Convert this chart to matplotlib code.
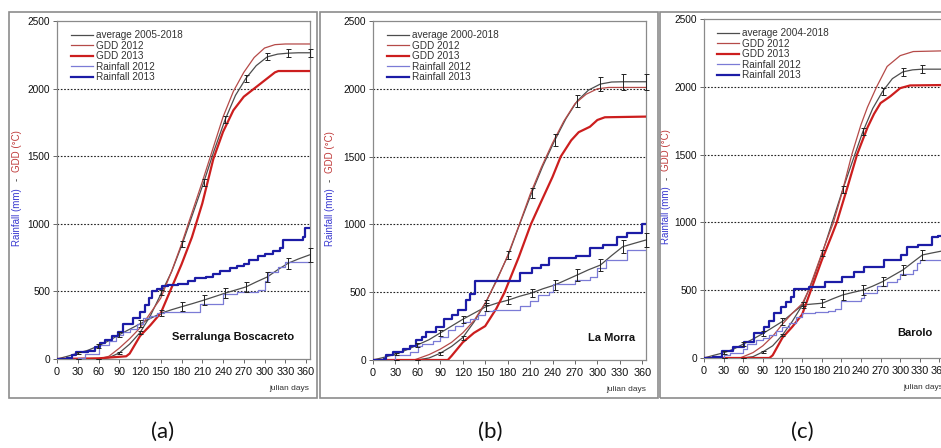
import matplotlib
matplotlib.use("Agg")
import matplotlib.pyplot as plt
from matplotlib.patches import Rectangle
from matplotlib.lines import Line2D
from matplotlib.transforms import blended_transform_factory

plt.rcParams["font.family"] = ["Liberation Sans", "DejaVu Sans"]

# julian days where the multi-year average is sampled; every second one carries an error bar
avg_days = [0, 15, 31, 45, 59, 75, 90, 105, 120, 135, 151, 166, 181, 196, 212,
            227, 243, 258, 273, 288, 304, 319, 334, 349, 365]
err_days = avg_days[2::2]
x_ticks = list(range(0, 361, 30))
y_ticks = [0, 500, 1000, 1500, 2000, 2500]
grid_levels = [500, 1000, 1500, 2000]

# --- Serralunga Boscacreto ---
a_name = "Serralunga Boscacreto"
a_avg_label = "average 2005-2018"
a_gdd_avg = [0, 0, 0, 0, 0, 10, 45, 110, 195, 320, 490, 650, 850, 1070, 1305,
             1540, 1770, 1950, 2075, 2170, 2235, 2255, 2262, 2265, 2265]
a_gdd_err = [0, 0, 8, 12, 18, 20, 25, 25, 25, 25, 28, 30]
a_rain_avg = [0, 20, 45, 65, 95, 135, 180, 220, 260, 300, 340, 365, 388, 410, 435,
              460, 487, 510, 533, 570, 607, 660, 708, 740, 770]
a_rain_err = [10, 15, 20, 25, 25, 30, 37, 35, 35, 35, 40, 50]
a_gdd12_days = [0, 60, 75, 90, 105, 120, 135, 150, 165, 180, 195, 210, 225, 240,
                255, 270, 285, 300, 315, 330, 365]
a_gdd12 = [0, 0, 20, 80, 150, 230, 340, 450, 640, 850, 1080, 1310, 1550, 1790,
           1980, 2120, 2230, 2300, 2325, 2330, 2330]
a_gdd13_days = [0, 60, 100, 105, 120, 135, 150, 165, 180, 195, 210, 226, 240, 255,
                270, 285, 300, 315, 320, 365]
a_gdd13 = [0, 5, 20, 40, 170, 250, 340, 520, 700, 900, 1150, 1480, 1680, 1840,
           1940, 2000, 2060, 2120, 2130, 2130]
a_rain12_days = [0, 30, 40, 60, 75, 85, 95, 105, 115, 125, 135, 145, 155, 200, 207,
                 240, 260, 290, 300, 305, 320, 330, 365]
a_rain12 = [0, 10, 40, 100, 130, 180, 200, 220, 260, 300, 320, 340, 345, 350, 410,
            480, 495, 510, 580, 640, 680, 720, 720]
a_rain13_days = [0, 15, 22, 28, 45, 55, 62, 70, 80, 88, 95, 110, 120, 127, 133, 137,
                 145, 152, 160, 175, 190, 200, 215, 225, 235, 250, 260, 270, 278,
                 290, 300, 312, 322, 326, 355, 358, 365]
a_rain13 = [0, 10, 30, 50, 60, 90, 120, 140, 170, 200, 260, 300, 350, 400, 450, 500,
            520, 540, 550, 555, 580, 600, 610, 630, 650, 670, 690, 700, 730, 760,
            780, 800, 820, 880, 900, 970, 970]

# --- La Morra ---
b_name = "La Morra"
b_avg_label = "average 2000-2018"
b_gdd_avg = [0, 0, 0, 0, 0, 15, 50, 100, 165, 280, 425, 600, 775, 1000, 1230,
             1430, 1620, 1780, 1910, 1990, 2035, 2050, 2052, 2052, 2052]
b_gdd_err = [0, 0, 10, 15, 20, 30, 37, 45, 45, 50, 60, 60]
b_rain_avg = [0, 20, 45, 75, 110, 150, 200, 250, 300, 345, 393, 420, 442, 470, 494,
              525, 553, 590, 627, 665, 700, 770, 836, 860, 885]
b_rain_err = [10, 15, 20, 25, 30, 30, 30, 35, 45, 45, 50, 55]
b_gdd12_days = [0, 55, 60, 75, 90, 105, 120, 135, 150, 165, 180, 195, 210, 225,
                240, 255, 270, 285, 300, 315, 365]
b_gdd12 = [0, 0, 10, 40, 80, 130, 200, 290, 420, 580, 770, 990, 1220, 1420, 1600,
           1760, 1890, 1960, 2000, 2010, 2010]
b_gdd13_days = [0, 100, 105, 120, 135, 150, 165, 176, 195, 211, 225, 240, 251, 265,
                275, 290, 300, 310, 365]
b_gdd13 = [0, 0, 30, 130, 200, 250, 380, 500, 760, 1000, 1170, 1350, 1500, 1620,
           1680, 1720, 1770, 1790, 1795]
b_rain12_days = [0, 25, 30, 50, 60, 65, 80, 90, 100, 110, 120, 130, 140, 150, 160,
                 196, 210, 220, 235, 240, 270, 290, 299, 312, 340, 365]
b_rain12 = [0, 0, 40, 60, 100, 120, 140, 170, 220, 250, 280, 300, 330, 360, 370,
            397, 434, 480, 500, 560, 590, 614, 675, 737, 811, 811]
b_rain13_days = [0, 15, 18, 27, 40, 50, 58, 65, 71, 84, 95, 105, 113, 124, 130, 136,
                 196, 213, 225, 235, 272, 290, 308, 326, 340, 359, 365]
b_rain13 = [0, 10, 40, 62, 80, 100, 147, 170, 209, 246, 300, 330, 369, 442, 490, 585,
            640, 677, 700, 752, 764, 825, 850, 909, 938, 1005, 1005]

# --- Barolo ---
c_name = "Barolo"
c_avg_label = "average 2004-2018"
c_gdd_avg = [0, 0, 0, 0, 0, 10, 45, 90, 170, 270, 395, 570, 775, 1000, 1240,
             1450, 1670, 1840, 1965, 2060, 2110, 2125, 2130, 2130, 2130]
c_gdd_err = [0, 0, 5, 10, 15, 20, 25, 25, 25, 30, 30, 30]
c_rain_avg = [0, 20, 40, 65, 100, 140, 180, 225, 270, 330, 391, 398, 404, 435, 465,
              483, 501, 530, 563, 605, 649, 705, 760, 775, 790]
c_rain_err = [10, 15, 20, 25, 25, 30, 35, 35, 35, 35, 40, 50]
c_gdd12_days = [0, 55, 60, 75, 90, 105, 120, 135, 150, 160, 180, 198, 210, 226,
                240, 250, 264, 280, 300, 320, 365]
c_gdd12 = [0, 0, 10, 40, 90, 160, 250, 330, 400, 500, 770, 1000, 1200, 1500, 1720,
           1850, 2000, 2150, 2230, 2260, 2265]
c_gdd13_days = [0, 100, 105, 120, 135, 150, 165, 180, 195, 203, 220, 234, 250, 260,
                270, 285, 300, 315, 365]
c_gdd13 = [0, 0, 20, 150, 230, 320, 520, 720, 900, 1000, 1270, 1500, 1700, 1800,
           1880, 1930, 1990, 2010, 2013]
c_rain12_days = [0, 20, 30, 40, 60, 65, 80, 90, 100, 110, 120, 130, 140, 150, 170,
                 190, 200, 210, 240, 245, 265, 280, 295, 300, 320, 325, 330, 365]
c_rain12 = [0, 0, 20, 40, 70, 100, 130, 150, 170, 200, 230, 260, 300, 330, 340, 350,
            360, 420, 440, 480, 530, 560, 580, 620, 650, 700, 720, 720]
c_rain13_days = [0, 14, 28, 45, 61, 76, 91, 100, 107, 117, 125, 133, 138, 160, 185,
                 211, 230, 245, 276, 301, 311, 327, 348, 358, 365]
c_rain13 = [0, 10, 55, 81, 120, 182, 231, 270, 329, 378, 410, 452, 510, 526, 563,
            600, 637, 673, 723, 760, 821, 833, 895, 900, 900]

col_avg = "#4d4d4d"
col_gdd12 = "#b54a48"
col_gdd13 = "#cc1e1e"
col_rain12 = "#7b7bd6"
col_rain13 = "#1c1ca6"

W, H = 941, 448
fig = plt.figure(figsize=(W / 100, H / 100), dpi=100)


def px_rect(left, top, right, bottom):
    return [left / W, 1 - bottom / H, (right - left) / W, (bottom - top) / H]


# outer frames around each chart
for l, t, r, b in [(9, 12, 317, 398), (320, 12, 658, 398), (660, 12, 945, 398)]:
    x0, y0, w, h = px_rect(l, t, r, b)
    fig.patches.append(Rectangle((x0, y0), w, h, transform=fig.transFigure,
                                 fill=False, edgecolor="#8c8c8c", lw=1.2))

panels = [
    dict(rect=(57, 21, 309.5, 359), name=a_name, avg_label=a_avg_label,
         gdd_avg=a_gdd_avg, gdd_err=a_gdd_err, rain_avg=a_rain_avg, rain_err=a_rain_err,
         gdd12=(a_gdd12_days, a_gdd12), gdd13=(a_gdd13_days, a_gdd13),
         rain12=(a_rain12_days, a_rain12), rain13=(a_rain13_days, a_rain13),
         name_pos=(343, 165), ylab_x=-0.16, tag=("(a)", 163)),
    dict(rect=(373, 21, 646, 360), name=b_name, avg_label=b_avg_label,
         gdd_avg=b_gdd_avg, gdd_err=b_gdd_err, rain_avg=b_rain_avg, rain_err=b_rain_err,
         gdd12=(b_gdd12_days, b_gdd12), gdd13=(b_gdd13_days, b_gdd13),
         rain12=(b_rain12_days, b_rain12), rain13=(b_rain13_days, b_rain13),
         name_pos=(351, 165), ylab_x=-0.158, tag=("(b)", 490)),
    dict(rect=(704, 19, 942.7, 358), name=c_name, avg_label=c_avg_label,
         gdd_avg=c_gdd_avg, gdd_err=c_gdd_err, rain_avg=c_rain_avg, rain_err=c_rain_err,
         gdd12=(c_gdd12_days, c_gdd12), gdd13=(c_gdd13_days, c_gdd13),
         rain12=(c_rain12_days, c_rain12), rain13=(c_rain13_days, c_rain13),
         name_pos=(350, 185), ylab_x=-0.158, tag=("(c)", 802)),
]

for p in panels:
    ax = fig.add_axes(px_rect(*p["rect"]))
    ax.set_xlim(0, 365)
    ax.set_ylim(0, 2500)
    ax.set_xticks(x_ticks)
    ax.set_yticks(y_ticks)
    for s in ax.spines.values():
        s.set_color("#8a8a8a")
        s.set_linewidth(0.9)
    ax.tick_params(axis="both", direction="out", length=3, width=0.7,
                   colors="#666666", labelcolor="#111111")
    ax.tick_params(axis="x", labelsize=7.8, pad=3)
    ax.tick_params(axis="y", labelsize=7.3, pad=2)
    for lev in grid_levels:
        ax.axhline(lev, color="#222222", lw=0.8, ls=(0, (1.5, 1.5)), zorder=1)

    ax.plot(avg_days, p["gdd_avg"], color=col_avg, lw=0.9, zorder=3)
    ax.plot(avg_days, p["rain_avg"], color=col_avg, lw=0.9, zorder=3)
    ax.errorbar(err_days, p["gdd_avg"][2::2], yerr=p["gdd_err"], fmt="none",
                ecolor="#222222", elinewidth=0.7, capsize=1.8, capthick=0.7,
                zorder=4, clip_on=False)
    ax.errorbar(err_days, p["rain_avg"][2::2], yerr=p["rain_err"], fmt="none",
                ecolor="#222222", elinewidth=0.7, capsize=1.8, capthick=0.7,
                zorder=4, clip_on=False)
    ax.plot(*p["gdd12"], color=col_gdd12, lw=0.9, zorder=3)
    ax.plot(*p["gdd13"], color=col_gdd13, lw=1.6, zorder=3)
    ax.plot(*p["rain12"], color=col_rain12, lw=0.9, drawstyle="steps-post", zorder=3)
    ax.plot(*p["rain13"], color=col_rain13, lw=1.6, drawstyle="steps-post", zorder=3)

    handles = [Line2D([], [], color=col_avg, lw=0.9),
               Line2D([], [], color=col_gdd12, lw=0.9),
               Line2D([], [], color=col_gdd13, lw=1.6),
               Line2D([], [], color=col_rain12, lw=0.9),
               Line2D([], [], color=col_rain13, lw=1.6)]
    labels = [p["avg_label"], "GDD 2012", "GDD 2013", "Rainfall 2012", "Rainfall 2013"]
    leg = ax.legend(handles, labels, loc="upper left", bbox_to_anchor=(0.03, 0.99),
                    frameon=False, fontsize=7.2, handlelength=2.2, handletextpad=0.3,
                    labelspacing=0.05, borderaxespad=0.2)
    for t in leg.get_texts():
        t.set_color("#333333")

    nx, ny = p["name_pos"]
    ax.text(nx, ny, p["name"], ha="right", va="center", fontsize=8,
            fontweight="bold", color="#111111")
    ax.text(1.0, -0.086, "julian days", transform=ax.transAxes, ha="right",
            va="center", fontsize=6, color="#333333", clip_on=False)

    # two-colour y label
    tr = blended_transform_factory(ax.transAxes, ax.transData)
    lx = p["ylab_x"]
    ax.text(lx, 1050, "Rainfall (mm)", transform=tr, rotation=90, ha="center",
            va="center", fontsize=7, color="#3a3ad0")
    ax.text(lx, 1325, "-", transform=tr, rotation=90, ha="center", va="center",
            fontsize=7, color="#333333")
    ax.text(lx, 1535, "GDD (°C)", transform=tr, rotation=90, ha="center",
            va="center", fontsize=7, color="#c03a3a")

    tag, tx = p["tag"]
    fig.text(tx / W, 1 - 432 / H, tag, ha="center", va="center", fontsize=16,
             family=["Lato", "DejaVu Sans"], color="#111111")

fig.savefig("out.png", dpi=100)
